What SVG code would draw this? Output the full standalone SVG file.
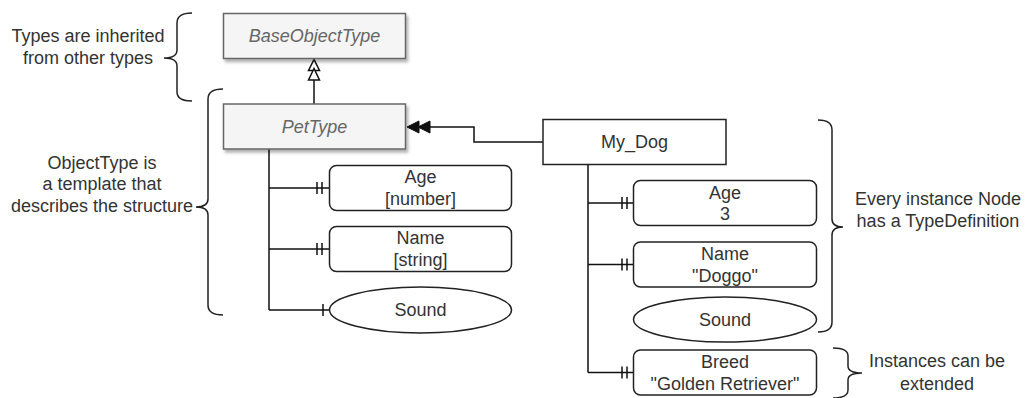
<svg xmlns="http://www.w3.org/2000/svg" width="1027" height="398" viewBox="0 0 1027 398">
<style>
text{font-family:"Liberation Sans",Arial,sans-serif;font-size:18px;fill:#333;text-anchor:middle}
.type{fill:#f5f5f5;stroke:#666;stroke-width:1.5}
.typetxt{fill:#666;font-style:italic}
.box{fill:#fff;stroke:#222;stroke-width:1.5}
.ln{fill:none;stroke:#111;stroke-width:1.5}
.brace{fill:none;stroke:#222;stroke-width:1.5}
.hollow{fill:#fff;stroke:#111;stroke-width:1.5}
.filled{fill:#111;stroke:#111;stroke-width:1}
</style>
<defs>
<filter id="sh" x="-10%" y="-20%" width="130%" height="160%">
<feDropShadow dx="2" dy="3" stdDeviation="1.5" flood-color="#000" flood-opacity="0.3"/>
</filter>
</defs>

<g id="annotations">
<path class="brace" d="M192,13 Q177,13 177,23 L177,50 Q177,58 164,58 Q177,58 177,66 L177,92 Q177,101 192,101"/>
<text x="88" y="42">Types are inherited</text>
<text x="88" y="64">from other types</text>
<path class="brace" d="M223,89 Q208,89 208,99 L208,199 Q208,207 196,207 Q208,207 208,215 L208,305 Q208,315 223,315"/>
<text x="102" y="169">ObjectType is</text>
<text x="102" y="190">a template that</text>
<text x="102" y="212">describes the structure</text>
<path class="brace" d="M818,120 Q832,120 832,130 L832,219 Q832,227 843,227 Q832,227 832,235 L832,322 Q832,332 818,332"/>
<text x="938" y="205">Every instance Node</text>
<text x="938" y="227">has a TypeDefinition</text>
<path class="brace" d="M833,348 Q848,348 848,356 L848,366 Q848,373 862,373 Q848,373 848,380 L848,390 Q848,398 833,398"/>
<text x="937" y="367">Instances can be</text>
<text x="937" y="390">extended</text>
</g>

<g id="connectors">
<path class="ln" d="M314,104 L314,80"/>
<path class="hollow" d="M314,59.5 L308.5,70.5 L319.5,70.5 Z"/>
<path class="hollow" d="M314,68.5 L308.5,80 L319.5,80 Z"/>
<path class="ln" d="M543,142 L474,142 L474,127 L430,127"/>
<path class="filled" d="M407,127 L419,121 L419,133 Z"/>
<path class="filled" d="M418,127 L430,121 L430,133 Z"/>
<path class="ln" d="M269,149 L269,310 M269,188 L329,188 M269,249 L329,249 M269,310 L329,310"/>
<path class="ln" d="M317,182 L317,194 M322,182 L322,194 M317,243 L317,255 M322,243 L322,255 M323,304 L323,316"/>
<path class="ln" d="M588,164 L588,372.5 M588,203 L633,203 M588,264.5 L633,264.5 M588,372.5 L633,372.5"/>
<path class="ln" d="M622,197 L622,209 M627,197 L627,209 M622,258.5 L622,270.5 M627,258.5 L627,270.5 M622,366.5 L622,378.5 M627,366.5 L627,378.5"/>
</g>

<g id="BaseObjectType">
<rect class="type" x="223.5" y="13.5" width="182" height="45" filter="url(#sh)"/>
<text class="typetxt" x="314.5" y="42">BaseObjectType</text>
</g>
<g id="PetType">
<rect class="type" x="223.5" y="104" width="182" height="45" filter="url(#sh)"/>
<text class="typetxt" x="314.5" y="133">PetType</text>
</g>
<g id="TypeAge">
<rect class="box" x="329.5" y="165.5" width="182" height="45" rx="7"/>
<text x="420.5" y="183">Age</text>
<text x="420.5" y="205">[number]</text>
</g>
<g id="TypeName">
<rect class="box" x="329.5" y="226.5" width="182" height="45" rx="7"/>
<text x="420.5" y="244">Name</text>
<text x="420.5" y="266">[string]</text>
</g>
<g id="TypeSound">
<ellipse class="box" cx="420.5" cy="310" rx="91" ry="23"/>
<text x="420.5" y="316">Sound</text>
</g>
<g id="My_Dog">
<rect class="box" x="543" y="119.5" width="183" height="45"/>
<text x="634.5" y="148">My_Dog</text>
</g>
<g id="InstAge">
<rect class="box" x="633.5" y="180.5" width="183" height="45" rx="7"/>
<text x="725" y="198.5">Age</text>
<text x="725" y="220">3</text>
</g>
<g id="InstName">
<rect class="box" x="633.5" y="242" width="183" height="45" rx="7"/>
<text x="725" y="259.5">Name</text>
<text x="725" y="281.5">"Doggo"</text>
</g>
<g id="InstSound">
<ellipse class="box" cx="725" cy="319.5" rx="91.5" ry="22.5"/>
<text x="725" y="325.5">Sound</text>
</g>
<g id="InstBreed">
<rect class="box" x="633.5" y="350" width="183" height="45" rx="7"/>
<text x="725" y="367.5">Breed</text>
<text x="725" y="389.5">"Golden Retriever"</text>
</g>
</svg>
